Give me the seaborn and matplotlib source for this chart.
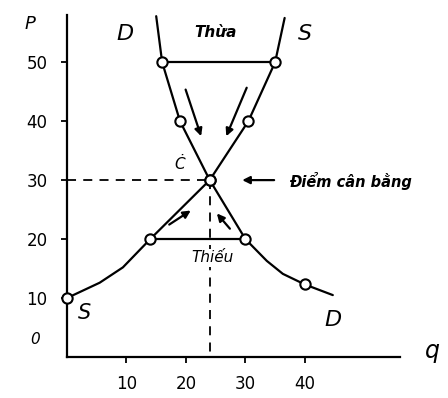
import matplotlib
matplotlib.use("Agg")
import matplotlib.pyplot as plt
import seaborn as sns
import pandas as pd

# ---- data ----
supply_q = [0, 5.5, 9.4, 14, 24, 30.5, 35, 36.6]
supply_p = [10, 12.6, 15.2, 20, 30, 40, 50, 57.5]
supply_mark = [True, False, False, True, True, True, True, False]

demand_q = [15, 16, 19, 24, 30, 33.6, 36.3, 40, 44.7]
demand_p = [57.8, 50, 40, 30, 20, 16.3, 14.1, 12.3, 10.5]
demand_mark = [False, True, True, True, True, False, False, True, False]

surplus_q = [16, 35]
surplus_p = 50
shortage_q = [14, 30]
shortage_p = 20
eq_q, eq_p = 24, 30

x_ticks = [10, 20, 30, 40]
y_ticks = [10, 20, 30, 40, 50]

sns.set_theme(style="white")
plt.rcParams['font.family'] = ['DejaVu Sans']

fig = plt.figure(figsize=(4.48, 3.98), dpi=100)
ax = fig.add_axes([67/448, 41/398, 333/448, 342/398])

sup = pd.DataFrame({"q": supply_q, "p": supply_p, "m": supply_mark})
dem = pd.DataFrame({"q": demand_q, "p": demand_p, "m": demand_mark})

sns.lineplot(data=sup, x="q", y="p", sort=False, color="black", lw=1.6, ax=ax)
sns.lineplot(data=dem, x="q", y="p", sort=False, color="black", lw=1.6, ax=ax)
ax.plot(surplus_q, [surplus_p] * 2, color="black", lw=1.6)
ax.plot(shortage_q, [shortage_p] * 2, color="black", lw=1.6)

# dashed guides
ax.plot([0, eq_q], [eq_p, eq_p], color="black", lw=1.3, ls=(0, (5, 4)))
ax.plot([eq_q, eq_q], [eq_p, 0], color="black", lw=1.3, ls=(0, (5, 4)))

sns.scatterplot(data=sup[sup.m], x="q", y="p", s=55, facecolor="white",
                edgecolor="black", linewidth=1.5, ax=ax, zorder=5, clip_on=False)
sns.scatterplot(data=dem[dem.m], x="q", y="p", s=55, facecolor="white",
                edgecolor="black", linewidth=1.5, ax=ax, zorder=5, clip_on=False)

ax.set_xlim(0, 56)
ax.set_ylim(0, 58)
ax.set_xticks(x_ticks)
ax.set_yticks(y_ticks)
ax.set_xlabel("")
ax.set_ylabel("")
for s in ["top", "right"]:
    ax.spines[s].set_visible(False)
for s in ["left", "bottom"]:
    ax.spines[s].set_color("black")
    ax.spines[s].set_linewidth(1.6)
ax.tick_params(axis="x", direction="out", length=4, width=1.3, pad=9,
               labelsize=12, colors="black", bottom=True)
ax.tick_params(axis="y", direction="out", length=4, width=1.3, pad=10,
               labelsize=12, colors="black", left=True)

kw = dict(color="black", style="italic", clip_on=False)
ax.text(-6.2, 56.5, "P", fontsize=13, ha="center", va="center", **kw)
ax.text(61.5, 1.0, "q", fontsize=17, ha="center", va="center", **kw)
ax.text(-5.4, 2.9, "0", fontsize=11, ha="center", va="center", **kw)
ax.text(9.7, 54.7, "D", fontsize=16, ha="center", va="center", **kw)
ax.text(40.0, 54.7, "S", fontsize=16, ha="center", va="center", **kw)
ax.text(24.9, 55.0, "Thừa", fontsize=11, fontweight="bold", ha="center", va="center", **kw)
ax.text(19.0, 32.7, "Ċ", fontsize=11, ha="center", va="center", **kw)
ax.text(37.3, 29.8, "Điểm cân bằng", fontsize=10.5, fontweight="bold",
        ha="left", va="center", **kw)
ax.text(24.4, 16.8, "Thiếu", fontsize=11, ha="center", va="center",
        bbox=dict(facecolor="white", edgecolor="none", pad=1), **kw)
ax.text(2.9, 7.4, "S", fontsize=15, ha="center", va="center", **kw)
ax.text(44.7, 6.2, "D", fontsize=16, ha="center", va="center", **kw)

ap = dict(arrowstyle="-|>", color="black", lw=1.6, mutation_scale=11)
ax.annotate("", xy=(29.0, 30), xytext=(35.3, 30), arrowprops=ap)
ax.annotate("", xy=(22.7, 37.0), xytext=(19.8, 45.8), arrowprops=ap)
ax.annotate("", xy=(26.6, 37.0), xytext=(30.4, 46.1), arrowprops=ap)
ax.annotate("", xy=(21.2, 25.1), xytext=(16.8, 22.2), arrowprops=ap)
ax.annotate("", xy=(24.9, 24.7), xytext=(27.7, 21.4), arrowprops=ap)

fig.savefig("out.png", dpi=100, facecolor="white")
